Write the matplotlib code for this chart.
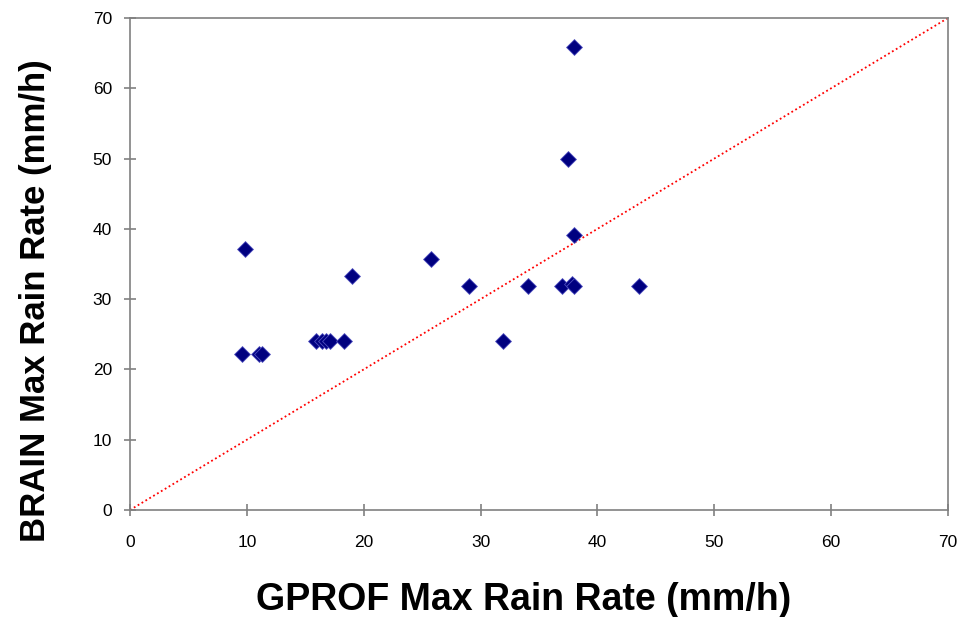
import matplotlib
matplotlib.use("Agg")
import matplotlib.pyplot as plt

gprof = [9.8, 9.6, 11.0, 11.3, 15.9, 16.4, 16.8, 17.1, 18.3, 19.0, 25.8, 29.0,
         31.9, 34.1, 37.0, 37.8, 38.0, 38.0, 37.5, 38.0, 43.6]
brain = [37.2, 22.2, 22.2, 22.2, 24.0, 24.0, 24.0, 24.0, 24.0, 33.3, 35.7, 31.9,
         24.0, 31.9, 31.9, 32.2, 31.9, 39.1, 49.9, 65.9, 31.9]
ticks = [0, 10, 20, 30, 40, 50, 60, 70]

plt.rcParams['font.family'] = ['Liberation Sans', 'DejaVu Sans']
fig = plt.figure(figsize=(9.63, 6.17), dpi=100)
ax = fig.add_axes([130/963, 1-510/617, 818/963, 492/617])

ax.plot([0, 70], [0, 70], color='red', linestyle=(0, (1, 1.5)), linewidth=1.3, zorder=2)
ax.scatter(gprof, brain, marker='D', s=65, color='#000080', edgecolors='#5050c0',
           linewidths=0.6, zorder=3)

ax.set_xlim(0, 70)
ax.set_ylim(0, 70)
ax.set_xticks(ticks)
ax.set_yticks(ticks)
for s in ax.spines.values():
    s.set_color('#808080')
    s.set_linewidth(1.2)
ax.tick_params(direction='inout', length=8, width=1.2, color='#808080',
               labelsize=12.5)
ax.tick_params(axis='x', pad=14)
ax.tick_params(axis='y', pad=9)
ax.set_xlabel('GPROF Max Rain Rate (mm/h)', fontsize=27, fontweight='bold', va='center')
ax.set_ylabel('BRAIN Max Rain Rate (mm/h)', fontsize=25, fontweight='bold', va='center')
ax.xaxis.set_label_coords(0.4817, -0.183)
ax.yaxis.set_label_coords(-0.116, 0.425)

fig.savefig('out.png', dpi=100)
